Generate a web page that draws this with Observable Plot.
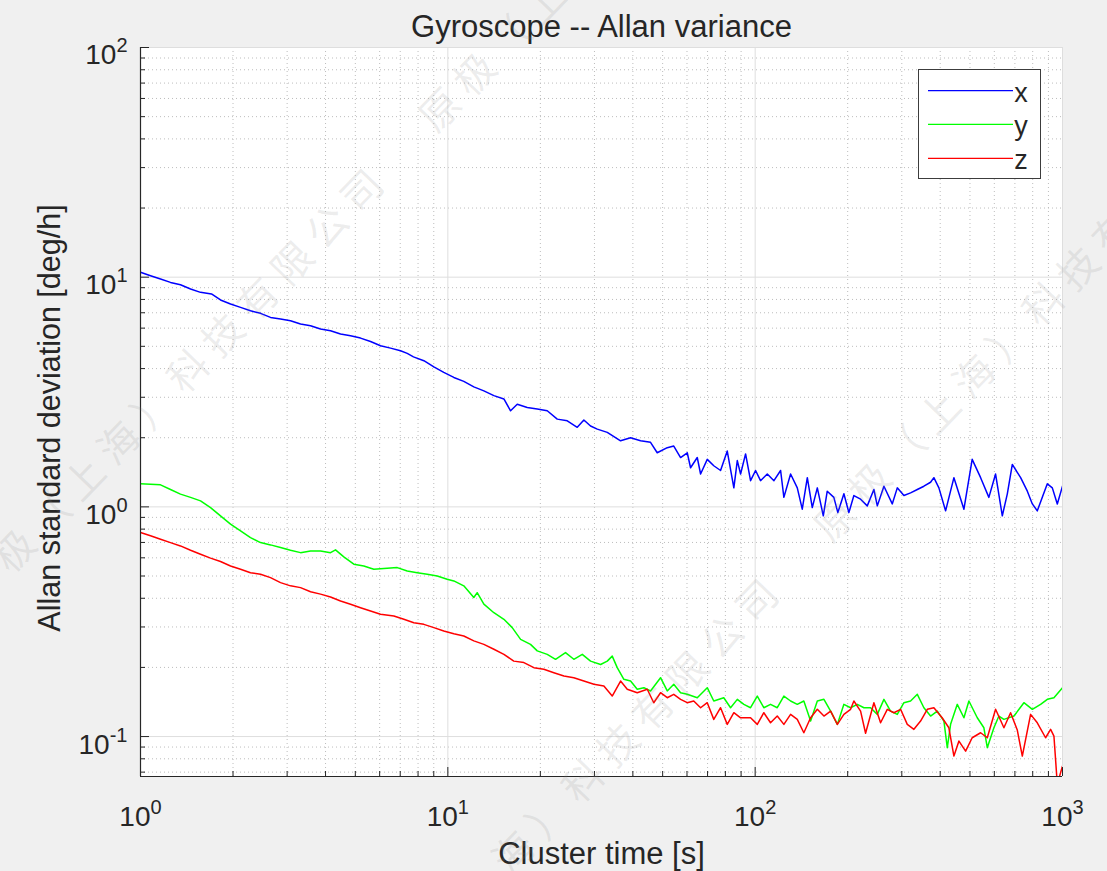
<!DOCTYPE html>
<html>
<head>
<meta charset="utf-8">
<script src="https://cdn.jsdelivr.net/npm/d3@7"></script>
<script src="https://cdn.jsdelivr.net/npm/@observablehq/plot@0.6"></script>
<style>
html, body { margin: 0; padding: 0; background: #f0f0f0; }
#wrap { position: relative; width: 1107px; height: 871px; overflow: hidden; }
</style>
</head>
<body>
<div id="wrap"></div>
<script>
// ---- data (cluster time [s], Allan deviation [deg/h]) ----
const tauX = [1, 1.078, 1.162, 1.252, 1.349, 1.455, 1.568, 1.702, 1.821, 1.963,
  2.116, 2.28, 2.458, 2.649, 2.855, 3.077, 3.317, 3.575, 3.853, 4.153,
  4.476, 4.824, 5.199, 5.604, 6.039, 6.51, 7.016, 7.378, 7.73, 8.356,
  9.006, 9.70, 10.46, 11.27, 12.15, 13.10, 14.12, 15.22, 16.0, 16.82,
  18.13, 19.54, 21.06, 22.70, 24.47, 26.37, 27.71, 29.13, 30.64, 33.02,
  36.48, 39.32, 42.38, 45.66, 48.01, 51.76, 54.34, 57.19, 60.12, 61.63,
  64.80, 66.44, 69.84, 73.34, 77.16, 81.13, 85.24, 87.47, 89.65, 93.07,
  96.6, 100.3, 104.1, 109.5, 115.1, 121.0, 124.0, 130.4, 137.1, 142.3,
  147.8, 153.4, 159.3, 166.6, 171.6, 180.3, 185.8, 194.4, 201.8, 209.5,
  220.3, 231.6, 243.4, 249.7, 262.4, 279.3, 290.0, 304.8, 320.4, 337.0,
  354.0, 372.2, 381.5, 396.1, 416.5, 443.3, 477.8, 508.3, 541.5, 576.0,
  605.7, 637.0, 661.4, 686.6, 730.8, 768.4, 797.8, 827.9, 859.6, 892.5,
  926.6, 961.8, 1000];
const sigmaX = [10.5, 10.15, 9.82, 9.49, 9.27, 8.88, 8.59, 8.45, 7.96, 7.64,
  7.39, 7.14, 6.96, 6.68, 6.58, 6.46, 6.25, 6.15, 5.95, 5.85,
  5.66, 5.56, 5.43, 5.25, 5.03, 4.91, 4.78, 4.66, 4.50, 4.33,
  4.07, 3.85, 3.66, 3.52, 3.33, 3.20, 3.05, 2.95, 2.62, 2.80,
  2.71, 2.67, 2.62, 2.41, 2.37, 2.22, 2.39, 2.25, 2.18, 2.11,
  1.94, 2.00, 1.94, 1.91, 1.72, 1.81, 1.84, 1.64, 1.72, 1.48,
  1.64, 1.39, 1.61, 1.51, 1.44, 1.75, 1.21, 1.59, 1.39, 1.70,
  1.30, 1.44, 1.30, 1.39, 1.30, 1.44, 1.10, 1.39, 1.21, 0.977,
  1.34, 0.993, 1.21, 0.914, 1.17, 1.10, 0.944, 1.14, 0.944, 1.12,
  1.08, 1.01, 1.19, 1.01, 1.23, 1.03, 1.21, 1.12, 1.15, 1.19,
  1.23, 1.28, 1.34, 1.21, 0.961, 1.34, 0.977, 1.61, 1.34, 1.10,
  1.39, 0.914, 1.14, 1.53, 1.34, 1.17, 1.03, 0.961, 1.10, 1.26,
  1.21, 1.03, 1.23];

const tauY = [1, 1.078, 1.162, 1.252, 1.349, 1.455, 1.568, 1.690, 1.821, 1.963,
  2.116, 2.28, 2.458, 2.649, 2.855, 3.077, 3.317, 3.575, 3.853, 4.153,
  4.311, 4.587, 4.944, 5.330, 5.743, 6.35, 6.845, 7.378, 7.95, 8.57,
  9.24, 9.95, 10.46, 11.27, 12.15, 12.46, 13.10, 14.12, 15.22, 16.20,
  17.25, 18.58, 19.54, 21.06, 22.41, 24.15, 25.70, 27.38, 29.13, 31.41,
  33.02, 34.27, 35.58, 37.39, 39.32, 41.33, 43.44, 45.66, 49.22, 51.76,
  54.34, 57.19, 60.12, 64.80, 69.84, 73.34, 79.04, 83.17, 87.47, 91.89,
  96.6, 101.6, 106.7, 112.2, 118.0, 124.0, 130.4, 137.1, 144.0, 151.5,
  159.3, 167.4, 176.0, 185.1, 194.4, 204.4, 215.0, 225.9, 237.4, 249.7,
  262.4, 275.8, 290.0, 304.8, 320.4, 337.0, 354.0, 372.2, 391.4, 411.3,
  421.8, 432.4, 454.6, 477.8, 496.0, 528.1, 554.9, 569.2, 598.2, 621.0,
  644.7, 695.1, 748.9, 797.8, 848.5, 892.5, 937.8, 1000];
const sigmaY = [1.26, 1.255, 1.247, 1.19, 1.136, 1.10, 1.062, 0.993, 0.914, 0.841,
  0.786, 0.735, 0.699, 0.683, 0.665, 0.647, 0.632, 0.643, 0.643, 0.632,
  0.650, 0.606, 0.563, 0.553, 0.535, 0.541, 0.544, 0.526, 0.517, 0.509,
  0.500, 0.484, 0.476, 0.453, 0.403, 0.423, 0.377, 0.346, 0.324, 0.298,
  0.265, 0.252, 0.236, 0.228, 0.217, 0.232, 0.217, 0.228, 0.213, 0.206,
  0.213, 0.224, 0.1995, 0.1775, 0.1745, 0.1606, 0.1632, 0.1579, 0.1804, 0.158,
  0.1688, 0.1552, 0.1527, 0.1476, 0.1632, 0.1428, 0.1476, 0.1335, 0.1452, 0.1381,
  0.1335, 0.1501, 0.1335, 0.1381, 0.1335, 0.1501, 0.1428, 0.1381, 0.1428, 0.1168,
  0.1428, 0.1452, 0.1291, 0.1130, 0.1381, 0.1335, 0.1381, 0.1335, 0.1335, 0.1249,
  0.1452, 0.1291, 0.1249, 0.1404, 0.1428, 0.1527, 0.1335, 0.1228, 0.1291, 0.1168,
  0.0894, 0.1130, 0.1381, 0.1207, 0.1428, 0.1207, 0.1092, 0.0894, 0.1092, 0.1228,
  0.1188, 0.1228, 0.1404, 0.1314, 0.1381, 0.1452, 0.1476, 0.1632];

const tauZ = [1, 1.078, 1.162, 1.252, 1.349, 1.455, 1.568, 1.690, 1.821, 1.963,
  2.116, 2.28, 2.458, 2.649, 2.855, 3.077, 3.317, 3.575, 3.853, 4.153,
  4.476, 4.824, 5.199, 5.604, 6.039, 6.674, 7.193, 7.75, 8.356, 9.006,
  9.70, 10.46, 11.27, 12.15, 13.10, 14.12, 15.22, 16.39, 17.68, 19.05,
  20.53, 22.13, 23.86, 25.70, 27.71, 29.87, 32.19, 34.27, 36.48, 38.35,
  41.33, 44.56, 46.77, 49.22, 51.76, 54.34, 57.19, 60.12, 63.11, 66.44,
  69.84, 73.34, 77.16, 81.13, 85.24, 89.65, 96.6, 101.6, 106.7, 112.2,
  118.0, 124.0, 130.4, 137.1, 144.0, 151.5, 159.3, 167.4, 176.0, 185.1,
  194.4, 204.4, 209.5, 220.3, 228.7, 243.4, 255.9, 269.1, 282.7, 297.3,
  312.6, 328.5, 345.3, 363.1, 381.5, 405.9, 426.8, 443.3, 460.3, 483.9,
  508.3, 541.5, 569.2, 605.7, 644.7, 677.8, 712.7, 740.0, 787.4, 827.9,
  881.0, 914.9, 937.8, 961.8, 1000];
const sigmaZ = [0.773, 0.748, 0.723, 0.699, 0.676, 0.647, 0.622, 0.598, 0.578, 0.553,
  0.535, 0.517, 0.509, 0.492, 0.468, 0.453, 0.445, 0.427, 0.417, 0.405,
  0.389, 0.377, 0.364, 0.352, 0.341, 0.335, 0.324, 0.313, 0.308, 0.298,
  0.288, 0.280, 0.274, 0.261, 0.252, 0.240, 0.228, 0.213, 0.210, 0.1995,
  0.1963, 0.1897, 0.1835, 0.1804, 0.1745, 0.1688, 0.1660, 0.1501, 0.1745, 0.1606,
  0.1552, 0.1606, 0.1404, 0.1552, 0.1476, 0.1527, 0.1452, 0.1404, 0.1428, 0.1335,
  0.1404, 0.1188, 0.1335, 0.1130, 0.1270, 0.1207, 0.1207, 0.1130, 0.1270, 0.1148,
  0.1228, 0.1130, 0.1249, 0.1188, 0.1039, 0.1207, 0.1314, 0.1228, 0.1291, 0.1130,
  0.1249, 0.1314, 0.1428, 0.1291, 0.1034, 0.1404, 0.1148, 0.1314, 0.1270, 0.1314,
  0.1130, 0.1075, 0.1168, 0.1314, 0.1335, 0.1207, 0.1092, 0.0822, 0.0956, 0.0864,
  0.0988, 0.1039, 0.0988, 0.1314, 0.1092, 0.1270, 0.1067, 0.0822, 0.1249, 0.1148,
  0.0988, 0.1075, 0.1005, 0.062, 0.0744];

const seriesNames = ["x", "y", "z"];
const seriesColors = ["#0000ff", "#00ff00", "#ff0000"];

// tick values
const xMajor = [1, 10, 100, 1000];
const xMinor = [2, 3, 4, 5, 6, 7, 8, 9, 20, 30, 40, 50, 60, 70, 80, 90, 200, 300, 400, 500, 600, 700, 800, 900];
const yMajor = [0.1, 1, 10, 100];
const yMinor = [0.07, 0.08, 0.09, 0.2, 0.3, 0.4, 0.5, 0.6, 0.7, 0.8, 0.9, 2, 3, 4, 5, 6, 7, 8, 9, 20, 30, 40, 50, 60, 70, 80, 90];
const xDomain = [1, 1000];
const yDomain = [0.067, 100];

const titleText = "Gyroscope -- Allan variance";
const xLabel = "Cluster time [s]";
const yLabel = "Allan standard deviation [deg/h]";
const watermarkText = "原极（上海）科技有限公司";

// ---- build ----
const toRows = (tau, sig) => tau.map((t, i) => ({tau: t, sigma: sig[i]}));
const rowsX = toRows(tauX, sigmaX);
const rowsY = toRows(tauY, sigmaY);
const rowsZ = toRows(tauZ, sigmaZ);

const W = 1107, H = 871;
const mL = 140, mR = 45, mT = 47, mB = 95;
const fw = W - mL - mR, fh = H - mT - mB;
const font = "'Liberation Sans', Arial, Helvetica, sans-serif";
const ink = "#262626";
const expFmt = d => "10^" + Math.round(Math.log10(d));

const chart = Plot.plot({
  width: W, height: H,
  marginLeft: mL, marginRight: mR, marginTop: mT, marginBottom: mB,
  style: {background: "#f0f0f0", fontFamily: font, color: ink},
  x: {type: "log", domain: xDomain},
  y: {type: "log", domain: yDomain},
  marks: [
    Plot.frame({fill: "white", stroke: null}),
    Plot.gridX(xMinor, {stroke: "#bdbdbd", strokeOpacity: 1, strokeDasharray: "1,3"}),
    Plot.gridY(yMinor, {stroke: "#bdbdbd", strokeOpacity: 1, strokeDasharray: "1,3"}),
    Plot.gridX(xMajor, {stroke: "#dedede", strokeOpacity: 1}),
    Plot.gridY(yMajor, {stroke: "#dedede", strokeOpacity: 1}),
    Plot.line(rowsX, {x: "tau", y: "sigma", stroke: seriesColors[0], strokeWidth: 1.5, clip: true}),
    Plot.line(rowsY, {x: "tau", y: "sigma", stroke: seriesColors[1], strokeWidth: 1.5, clip: true}),
    Plot.line(rowsZ, {x: "tau", y: "sigma", stroke: seriesColors[2], strokeWidth: 1.5, clip: true}),
    // inward ticks
    Plot.tickX(xMajor, {x: d => d, insetTop: fh - 9, stroke: ink}),
    Plot.tickX(xMinor, {x: d => d, insetTop: fh - 5, stroke: ink}),
    Plot.tickY(yMajor, {y: d => d, insetRight: fw - 9, stroke: ink}),
    Plot.tickY(yMinor, {y: d => d, insetRight: fw - 5, stroke: ink}),
    // axis lines
    Plot.ruleX([xDomain[0]], {stroke: ink, strokeWidth: 1.2}),
    Plot.ruleY([yDomain[0]], {stroke: ink, strokeWidth: 1.2}),
    // tick labels
    Plot.axisX(xMajor, {tickSize: 0, tickPadding: 30, fontSize: 28, tickFormat: expFmt, label: null, fill: ink}),
    Plot.axisY(yMajor, {tickSize: 0, tickPadding: 13, dy: 8, fontSize: 28, tickFormat: expFmt, label: null, fill: ink}),
    // titles
    Plot.text([titleText], {text: d => d, frameAnchor: "top", lineAnchor: "middle", dy: -20, fontSize: 31, fill: ink}),
    Plot.text([xLabel], {text: d => d, frameAnchor: "bottom", lineAnchor: "middle", dy: 78, fontSize: 31, fill: ink}),
    Plot.text([yLabel], {text: d => d, frameAnchor: "left", textAnchor: "middle", lineAnchor: "middle", rotate: -90, dx: -90, dy: 6, fontSize: 30.5, fill: ink})
  ]
});

// superscript exponents on tick labels
d3.select(chart).selectAll("text").each(function () {
  const m = /^10\^(.+)$/.exec(this.textContent);
  if (!m) return;
  const s = d3.select(this);
  s.text(null);
  s.append("tspan").text("10");
  s.append("tspan").attr("dy", -12).attr("font-size", 20).text(m[1]);
});

// legend (box inside the plot area, upper right)
const lg = d3.select(chart).append("g").attr("font-family", font);
lg.append("rect").attr("x", 918.5).attr("y", 69.5).attr("width", 122).attr("height", 109)
  .attr("fill", "white").attr("stroke", "#3c3c3c").attr("stroke-width", 1);
const legendRows = [90.7, 124.3, 158.3];
seriesNames.forEach((name, i) => {
  lg.append("line").attr("x1", 928).attr("x2", 1013).attr("y1", legendRows[i]).attr("y2", legendRows[i])
    .attr("stroke", seriesColors[i]).attr("stroke-width", 1.2);
  lg.append("text").attr("x", 1021).attr("y", legendRows[i] + 11).attr("font-size", 27)
    .attr("fill", ink).text(name);
});

// faint diagonal watermark, as in the reference image (two diagonals, text repeated)
const wm = d3.select(chart).append("g")
  .attr("font-family", "'Noto Sans CJK SC', sans-serif").attr("font-size", 40)
  .attr("fill", "#8c8c8c").attr("fill-opacity", 0.16).attr("pointer-events", "none")
  .attr("text-anchor", "middle").attr("dominant-baseline", "central");
const ang = 46 * Math.PI / 180, pitch = 50;
const wmChars = Array.from(watermarkText);
[[-22, 585], [373, 995]].forEach(([x0, y0]) => {
  [0, 13.25].forEach(offset => {
    wmChars.forEach((ch, k) => {
      const d = (offset + k) * pitch;
      const cx = x0 + d * Math.cos(ang), cy = y0 - d * Math.sin(ang);
      if (cx < -5 || cx > W + 5 || cy < -5 || cy > H + 5) return;
      wm.append("text").attr("transform", `translate(${cx.toFixed(1)},${cy.toFixed(1)}) rotate(-46)`).text(ch);
    });
  });
});

document.getElementById("wrap").appendChild(chart);
</script>
</body>
</html>
